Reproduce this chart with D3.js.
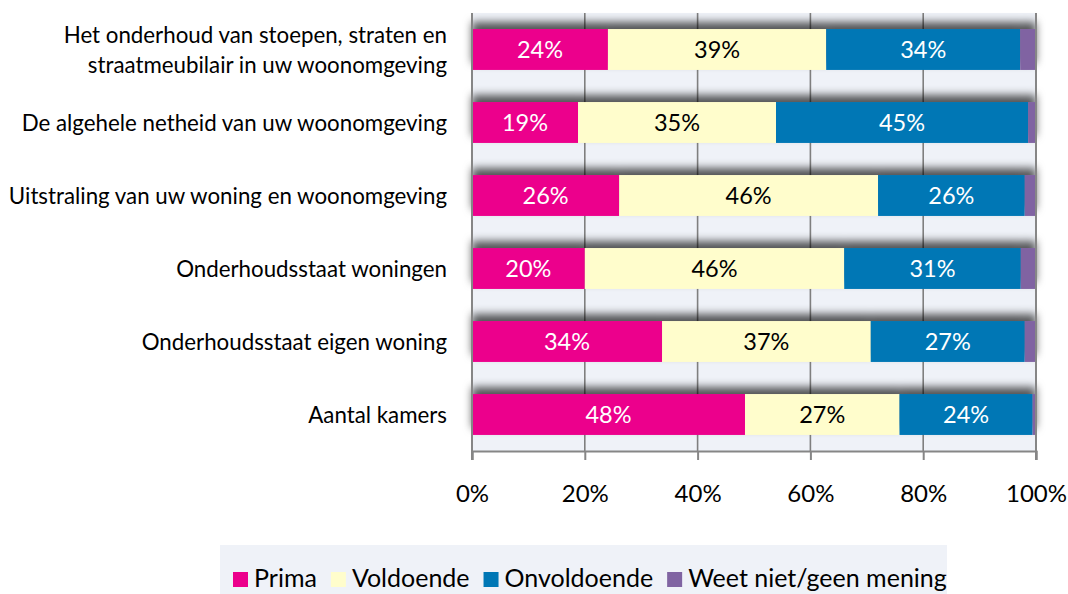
<!DOCTYPE html>
<html>
<head>
<meta charset="utf-8">
<script src="https://cdn.jsdelivr.net/npm/d3@7"></script>
<style>
  body { margin: 0; background: #fff; }
  text { font-family: Lato, "Open Sans", sans-serif; }
</style>
</head>
<body>
<svg id="chart" width="1068" height="594"></svg>
<script>
// data
const categories = [
  ["Het onderhoud van stoepen, straten en", "straatmeubilair in uw woonomgeving"],
  ["De algehele netheid van uw woonomgeving"],
  ["Uitstraling van uw woning en woonomgeving"],
  ["Onderhoudsstaat woningen"],
  ["Onderhoudsstaat eigen woning"],
  ["Aantal kamers"],
];
const seriesNames = ["Prima", "Voldoende", "Onvoldoende", "Weet niet/geen mening"];
const prima = [24.1, 18.8, 26.1, 20.0, 33.7, 48.4];
const voldoende = [38.7, 35.1, 45.9, 46.0, 37.0, 27.4];
const onvoldoende = [34.4, 44.7, 26.0, 31.3, 27.3, 23.6];
const weetNiet = [2.8, 1.4, 2.0, 2.7, 2.0, 0.6];
const xTicks = [0, 20, 40, 60, 80, 100];

const colors = ["#ec008c", "#fffdcc", "#0077b5", "#8064a2"];
const labelColors = ["#fff", "#000", "#fff", "#fff"];

const svg = d3.select("#chart");
const margin = { left: 472, right: 32, top: 13, bottom: 143 };
const W = 1068, H = 594;

const x = d3.scaleLinear().domain([0, 100]).range([margin.left, W - margin.right]);
const y = d3
  .scaleBand()
  .domain(d3.range(categories.length))
  .range([margin.top, H - margin.bottom])
  .paddingInner(0.44)
  .paddingOuter(0.22);

const rows = categories.map((c, i) => ({
  i,
  values: [prima[i], voldoende[i], onvoldoende[i], weetNiet[i]],
}));
const stack = d3.stack().keys([0, 1, 2, 3]).value((d, k) => d.values[k]);
const series = stack(rows);

// shadow above the bars
const defs = svg.append("defs");
const f = defs.append("filter").attr("id", "shadow")
  .attr("x", "-5%").attr("y", "-80%").attr("width", "110%").attr("height", "200%");
f.append("feDropShadow").attr("dx", 0).attr("dy", -7).attr("stdDeviation", 4.5)
  .attr("flood-color", "#000").attr("flood-opacity", 0.65);

// plot background
svg.append("rect")
  .attr("x", x(0)).attr("y", margin.top)
  .attr("width", x(100) - x(0)).attr("height", H - margin.bottom - margin.top)
  .attr("fill", "#eff2f8");

// grid lines
svg.append("g").selectAll("line")
  .data(xTicks.slice(1, -1))
  .join("line")
  .attr("x1", (d) => x(d)).attr("x2", (d) => x(d))
  .attr("y1", margin.top).attr("y2", H - margin.bottom)
  .attr("stroke", "#7f7f7f").attr("stroke-width", 1.6);

// bars, one group per row so the shadow falls once per bar
const rowG = svg.append("g").selectAll("g")
  .data(rows)
  .join("g")
  .attr("filter", "url(#shadow)");

rowG.selectAll("rect")
  .data((r) => series.map((s, k) => ({ k, y0: s[r.i][0], y1: s[r.i][1], row: r.i })))
  .join("rect")
  .attr("x", (d) => x(d.y0))
  .attr("width", (d) => x(d.y1) - x(d.y0))
  .attr("y", (d) => y(d.row))
  .attr("height", y.bandwidth())
  .attr("fill", (d) => colors[d.k]);

// value labels
svg.append("g").selectAll("g")
  .data(series.filter((s, k) => k < 3))
  .join("g")
  .selectAll("text")
  .data((s) => s.map((d, i) => ({ k: s.key, i, y0: d[0], y1: d[1] })))
  .join("text")
  .attr("x", (d) => (x(d.y0) + x(d.y1)) / 2)
  .attr("y", (d) => y(d.i) + y.bandwidth() / 2)
  .attr("dy", "0.36em")
  .attr("text-anchor", "middle")
  .attr("font-size", 23.5)
  .attr("fill", (d) => labelColors[d.k])
  .text((d) => Math.round(d.y1 - d.y0) + "%");

// x axis
const axis = svg.append("g")
  .attr("transform", `translate(0,${H - margin.bottom})`)
  .call(d3.axisBottom(x).tickValues(xTicks).tickSize(9).tickPadding(25).tickFormat((d) => d + "%"));
axis.select(".domain").attr("stroke", "#868686").attr("stroke-width", 2);
axis.selectAll(".tick line").attr("stroke", "#868686").attr("stroke-width", 2);
axis.selectAll(".tick text").attr("font-size", 24).attr("fill", "#000")
  .style("font-family", "Lato, sans-serif");

// frame sides
svg.append("g").selectAll("line")
  .data([0, 100])
  .join("line")
  .attr("x1", (d) => x(d)).attr("x2", (d) => x(d))
  .attr("y1", margin.top).attr("y2", H - margin.bottom + 9)
  .attr("stroke", "#868686").attr("stroke-width", 2);

// category labels
const catG = svg.append("g").selectAll("text")
  .data(categories)
  .join("text")
  .attr("text-anchor", "end")
  .attr("font-size", 22.3)
  .attr("fill", "#000")
  .attr("transform", (d, i) => `translate(447,${y(i) + y.bandwidth() / 2})`);
catG.selectAll("tspan")
  .data((d) => d.map((t, j) => ({ t, j, n: d.length })))
  .join("tspan")
  .attr("x", 0)
  .attr("y", (d) => (d.j - (d.n - 1) / 2) * 30)
  .attr("dy", "0.36em")
  .text((d) => d.t);

// legend
const legend = svg.append("g");
legend.append("rect")
  .attr("x", 220).attr("y", 545).attr("width", 727).attr("height", 60)
  .attr("fill", "#eff2f8");
let lx = 233;
seriesNames.forEach((name, k) => {
  legend.append("rect")
    .attr("x", lx).attr("y", 572).attr("width", 15).attr("height", 15)
    .attr("fill", colors[k]);
  const t = legend.append("text")
    .attr("x", lx + 21).attr("y", 587)
    .attr("font-size", 25)
    .attr("fill", "#000")
    .text(name);
  lx += 21 + t.node().getComputedTextLength() + 14;
});
</script>
</body>
</html>
